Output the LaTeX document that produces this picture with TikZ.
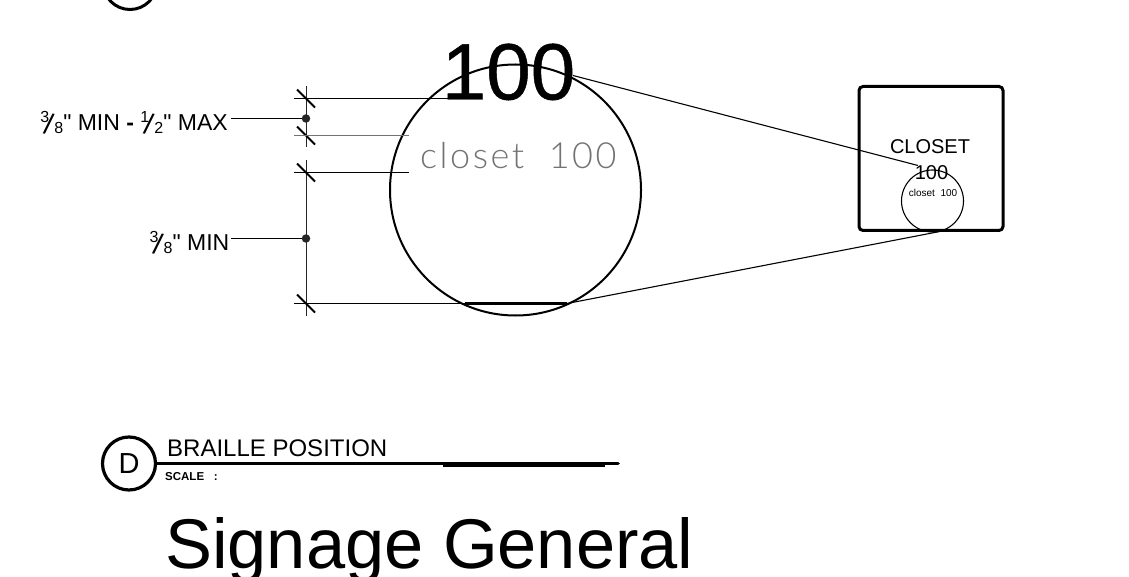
\documentclass[tikz,border=0pt]{standalone}
\usepackage{fontspec}
\setmainfont{Liberation Sans}
\newfontfamily\plainf{Liberation Sans}
\newfontfamily\thinf{Lato Light}
\newcommand{\fsz}[1]{\fontsize{#1}{#1}\selectfont}
\newcommand{\frc}[2]{\makebox[23pt][l]{\rlap{\raisebox{7.5pt}{\fsz{16}#1}}\kern2.5pt\rlap{\raisebox{-3pt}{\rotatebox{-11}{\fsz{29}/}}}\kern11.5pt\raisebox{-3pt}{\fsz{16}#2}}}
\tikzset{
 dim/.style={line width=1pt,black!85},
 tick/.style={line width=1.9pt,black},
 ext/.style={line width=1pt,black},
 zoomline/.style={line width=1.1pt,black},
 lbl/.style={inner sep=0pt,anchor=base east,font=\plainf\fsz{23}},
 txt/.style={inner sep=0pt,align=center},
 dotm/.style={circle,fill=black!85,inner sep=0pt,minimum size=8.5pt},
}
\begin{document}
\begin{tikzpicture}[x=1pt,y=-1pt]
\useasboundingbox (0,0) rectangle (1129,577);
\begin{scope}
\clip (0,0) rectangle (1129,577);
\begin{scope}[shift={(0,0.5)}]
% top partial bubble
\node[circle,draw,line width=3pt,minimum size=54pt,inner sep=0pt] (topb) at (130,-18) {};
% large bubble
\node[inner sep=0pt,anchor=base,font=\fsz{80}] (num) at (508.5,99) {\addfontfeature{FakeBold=0.6}100};
\node[circle,draw,line width=2pt,minimum size=251pt,inner sep=0pt] (big) at (515.5,189.5) {};
\node[inner sep=0pt,anchor=base west,font=\thinf\fsz{36},text=black!55] (cl) at (420,168) {\addfontfeature{LetterSpace=7}closet\ \ 100};
% dimension coordinates
\coordinate (d1t) at (306,86); \coordinate (d1b) at (306,147);
\coordinate (d2t) at (306,160); \coordinate (d2b) at (306,315);
\draw[dim] (d1t) -- (d1b);
\draw[dim] (d2t) -- (d2b);
\foreach \n/\y in {a/98,b/135,c/172,e/303}{
 \coordinate (t\n) at (306,\y);
 \draw[tick] ([shift={(-9,-9)}]t\n) -- ([shift={(9,9)}]t\n);
}
\coordinate (ea) at (452,98); \coordinate (eb) at (409,135); \coordinate (ec) at (409,172);
\coordinate (ee) at (465,303); \coordinate (ef) at (567,303);
\draw[ext] ([xshift=-12]ta) -- (ea);
\draw[ext,black!55,line width=1.3pt] ([xshift=-12]tb) -- (eb);
\draw[ext] ([xshift=-12]tc) -- (ec);
\draw[ext] ([xshift=-12]te) -- (ee);
\draw[line width=2.2pt] (ee) -- (ef);
% leaders
\node[dotm] (p1) at (306,118) {};
\node[dotm] (p2) at (306,238) {};
\node[lbl] (l1) at (228,130) {\frc{3}{8}" MIN {\bfseries -} \frc{1}{2}" MAX};
\node[lbl] (l2) at (229.5,250) {\frc{3}{8}" MIN};
\coordinate (l1e) at (231,118); \coordinate (l2e) at (231,238);
\draw[ext] (l1e) -- (p1);
\draw[ext] (l2e) -- (p2);
% sign
\node[draw,line width=3pt,rounded corners=4pt,minimum width=144pt,minimum height=144pt,inner sep=0pt] (sign) at (931,158) {};
\node[circle,draw,line width=1.1pt,minimum size=62pt,inner sep=0pt] (small) at (932.5,200.5) {};
\node[txt,anchor=base,font=\fsz{20}] (s1) at (930,153) {CLOSET};
\node[txt,anchor=base,font=\fsz{20}] (s2) at (931.5,179) {100};
\node[txt,anchor=base,font=\fsz{10}] (s3) at (933,196) {closet\ \ 100};
% zoom lines
\coordinate (z1a) at (573,75); \coordinate (z1b) at (918,165);
\coordinate (z2b) at (945,230);
\draw[zoomline] (z1a) -- (z1b);
\draw[zoomline] (ef) -- (z2b);
% title block
\node[circle,draw,line width=3.2pt,minimum size=53pt,inner sep=0pt,font=\fsz{29}] (D) at (129,463) {D};
\node[inner sep=0pt,anchor=base west,font=\fsz{24}] (title) at (167,456) {BRAILLE POSITION};
\coordinate (rend) at (618,463); \coordinate (h1) at (443,464); \coordinate (h2) at (605,464);
\draw[line width=3.6pt,line cap=round] (D.east) -- (rend);
\draw[line width=4.8pt] (h1) -- (h2);
\node[inner sep=0pt,anchor=base west,font=\fsz{11.5}\bfseries] (scale) at (165,480) {SCALE\ \ \ :};
\node[inner sep=0pt,anchor=base west,font=\fsz{70.4}] (sg) at (165,568) {Signage General};
\end{scope}
\end{scope}
\end{tikzpicture}
\end{document}
